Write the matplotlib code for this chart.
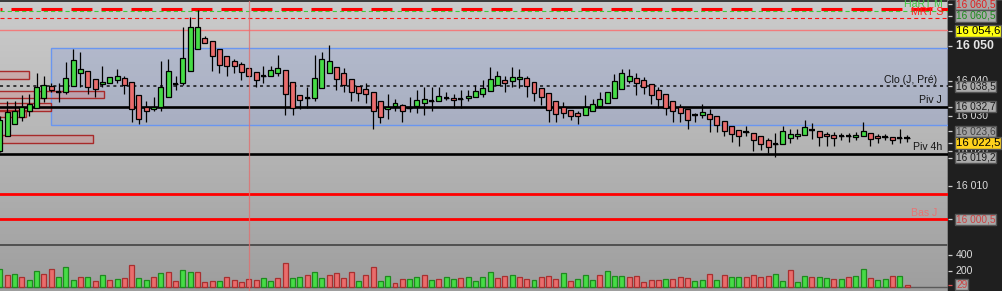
import numpy as np
import matplotlib
matplotlib.use('Agg')
import matplotlib.pyplot as plt
from matplotlib.patches import Rectangle
from matplotlib.colors import LinearSegmentedColormap

plt.rcParams['font.family'] = ['Liberation Sans', 'DejaVu Sans']
plt.rcParams['lines.scale_dashes'] = False

# --- donnees OHLC (bougies) ---
opens = [16020.0, 16024.3, 16027.7, 16029.7, 16031.4, 16032.3, 16035.1, 16038.6, 16036.9, 16036.9,
         16038.6, 16042.3, 16042.9, 16040.6, 16039.1, 16039.4, 16040.3, 16040.9, 16039.7, 16036.0,
         16032.6, 16032.0, 16032.6, 16035.4, 16039.1, 16039.4, 16042.9, 16049.1, 16052.3, 16051.4,
         16049.1, 16047.1, 16045.7, 16044.9, 16043.7, 16042.6, 16041.4, 16041.4, 16042.3, 16043.1,
         16039.7, 16036.0, 16035.1, 16035.1, 16038.0, 16042.3, 16044.0, 16042.3, 16040.6, 16038.6,
         16037.7, 16036.9, 16034.3, 16032.0, 16032.9, 16033.1, 16032.3, 16032.9, 16033.7, 16034.3,
         16034.3, 16035.1, 16035.1, 16034.9, 16035.1, 16035.4, 16036.3, 16037.1, 16038.9, 16040.3,
         16040.0, 16040.6, 16040.9, 16039.7, 16038.0, 16036.6, 16034.3, 16032.6, 16031.7, 16030.9,
         16030.3, 16031.4, 16032.9, 16033.7, 16035.1, 16037.7, 16040.0, 16040.9, 16040.3, 16039.1,
         16037.4, 16036.3, 16034.3, 16032.6, 16032.0, 16030.3, 16030.3, 16030.6, 16030.0, 16028.6,
         16027.1, 16026.0, 16025.4, 16025.1, 16024.3, 16023.1, 16022.0, 16022.0, 16023.7, 16024.3,
         16024.6, 16026.0, 16025.7, 16024.9, 16024.6, 16024.3, 16024.3, 16024.0, 16024.3, 16025.1,
         16024.3, 16024.0, 16024.0, 16023.7, 16023.7]
highs = [16030.0, 16034.3, 16034.3, 16036.0, 16036.3, 16042.3, 16041.4, 16039.4, 16039.4, 16045.4,
         16049.1, 16048.3, 16042.9, 16040.6, 16044.3, 16041.1, 16043.4, 16041.4, 16039.7, 16036.0,
         16034.3, 16035.4, 16045.7, 16046.3, 16041.4, 16055.4, 16058.3, 16060.3, 16052.9, 16051.4,
         16049.1, 16047.1, 16046.3, 16045.4, 16043.7, 16042.6, 16044.3, 16044.3, 16047.4, 16043.1,
         16039.7, 16036.0, 16038.3, 16047.4, 16048.3, 16050.3, 16044.0, 16043.7, 16040.6, 16038.6,
         16039.4, 16036.9, 16034.3, 16036.3, 16034.9, 16033.4, 16035.4, 16037.4, 16038.3, 16038.3,
         16038.3, 16036.9, 16036.3, 16037.4, 16037.4, 16038.9, 16040.3, 16044.0, 16042.9, 16041.4,
         16044.0, 16043.4, 16041.4, 16039.7, 16038.0, 16036.6, 16034.3, 16034.0, 16031.7, 16031.4,
         16036.0, 16034.9, 16036.9, 16036.9, 16042.0, 16043.4, 16043.4, 16042.3, 16041.1, 16039.1,
         16038.3, 16036.3, 16034.3, 16033.4, 16032.0, 16030.9, 16033.4, 16032.0, 16030.0, 16028.6,
         16027.1, 16026.0, 16027.1, 16025.1, 16024.3, 16023.7, 16025.1, 16027.1, 16026.3, 16026.3,
         16028.9, 16028.0, 16025.7, 16025.4, 16025.4, 16025.1, 16025.1, 16025.4, 16028.3, 16025.1,
         16024.9, 16024.9, 16024.0, 16026.3, 16024.6]
lows = [16019.7, 16024.3, 16027.7, 16028.6, 16030.0, 16032.3, 16034.0, 16036.9, 16034.0, 16036.3,
        16038.6, 16038.3, 16036.3, 16035.4, 16038.3, 16039.4, 16039.4, 16036.3, 16028.3, 16027.7,
        16028.3, 16031.4, 16031.4, 16035.4, 16037.4, 16038.9, 16042.9, 16049.1, 16050.9, 16042.9,
        16042.3, 16041.4, 16042.3, 16040.3, 16041.4, 16038.3, 16039.4, 16041.4, 16041.4, 16030.3,
        16030.3, 16032.0, 16032.3, 16034.3, 16038.0, 16042.3, 16037.4, 16036.9, 16034.3, 16034.3,
        16033.7, 16026.3, 16028.0, 16029.1, 16031.4, 16028.3, 16031.1, 16030.9, 16030.3, 16031.4,
        16034.3, 16034.6, 16032.3, 16032.3, 16034.3, 16035.4, 16035.4, 16037.1, 16038.9, 16036.9,
        16038.3, 16038.0, 16035.4, 16034.3, 16033.1, 16028.3, 16028.3, 16029.4, 16028.9, 16027.7,
        16030.3, 16031.4, 16032.3, 16033.7, 16035.1, 16037.7, 16039.4, 16036.0, 16036.3, 16033.4,
        16032.3, 16030.3, 16028.3, 16028.3, 16026.3, 16028.3, 16029.4, 16025.4, 16025.4, 16024.3,
        16022.6, 16021.4, 16024.3, 16020.0, 16020.3, 16019.4, 16018.3, 16022.0, 16022.3, 16023.4,
        16024.6, 16023.4, 16021.4, 16021.4, 16021.4, 16023.1, 16022.6, 16023.1, 16024.3, 16021.4,
        16022.3, 16023.1, 16022.0, 16022.3, 16022.6]
closes = [16028.9, 16031.1, 16031.4, 16032.6, 16033.4, 16038.3, 16038.9, 16037.4, 16036.9, 16040.9,
          16046.0, 16043.4, 16038.3, 16037.7, 16039.7, 16041.1, 16041.4, 16038.9, 16032.0, 16029.1,
          16031.4, 16032.6, 16038.3, 16042.9, 16039.1, 16046.6, 16055.4, 16055.4, 16050.9, 16047.1,
          16044.6, 16044.3, 16044.3, 16042.6, 16041.4, 16040.3, 16041.4, 16043.1, 16043.7, 16036.3,
          16032.3, 16034.6, 16035.1, 16040.9, 16046.3, 16045.7, 16040.6, 16038.9, 16036.9, 16036.6,
          16036.3, 16031.4, 16029.7, 16032.6, 16033.7, 16031.4, 16032.3, 16034.6, 16034.9, 16034.3,
          16035.7, 16035.1, 16034.6, 16034.9, 16035.7, 16037.1, 16038.0, 16040.6, 16041.4, 16039.4,
          16041.1, 16041.1, 16038.6, 16036.6, 16035.4, 16031.7, 16030.6, 16030.9, 16030.0, 16030.0,
          16032.6, 16033.4, 16034.9, 16036.9, 16040.0, 16042.3, 16041.4, 16039.4, 16038.3, 16036.0,
          16034.9, 16032.3, 16031.4, 16030.9, 16028.9, 16030.3, 16031.1, 16029.1, 16027.4, 16025.7,
          16024.9, 16024.3, 16025.4, 16023.1, 16022.0, 16021.1, 16022.0, 16025.7, 16024.9, 16024.9,
          16026.9, 16026.0, 16024.0, 16024.3, 16023.7, 16024.3, 16024.3, 16024.6, 16025.7, 16023.4,
          16023.7, 16024.0, 16023.1, 16023.7, 16023.7]

volumes = [225, 150, 163, 125, 88, 200, 163, 225, 125, 250, 88, 125, 125, 75, 150, 88, 100, 113, 275, 113,
           88, 125, 175, 188, 75, 213, 188, 188, 63, 75, 75, 125, 88, 63, 100, 88, 113, 75, 113, 300,
           113, 125, 150, 188, 113, 150, 175, 113, 188, 75, 150, 250, 75, 138, 50, 100, 100, 125, 150, 88,
           100, 125, 100, 113, 125, 75, 125, 188, 113, 138, 150, 125, 100, 88, 125, 138, 100, 175, 75, 100,
           150, 88, 150, 200, 138, 138, 125, 138, 63, 88, 88, 100, 100, 125, 113, 75, 88, 163, 88, 150,
           125, 125, 125, 150, 125, 138, 163, 75, 213, 63, 138, 125, 125, 113, 100, 100, 125, 138, 225, 113,
           88, 100, 138, 138, 29]
vol_sens = list('grgrggrrgggrgrgrgrrg'
                'grgrrggrrrgrrrrrggrr'
                'ggrggrrrrgrrggrrggrg'
                'rggrggggr'
                'rgrrgrrrgrgggrgggrrr'
                'rrgrrrggrgrggrrrrggr'
                'ggrggrgrggrggrgr')

# niveaux
piv_j = 16032.7
piv_4h = 16019.2
clo_j = 16038.5
bas_j = 16000.5
niveau_rouge = 16007.6
rt_m = 16060.5
rt_s = 16057.9
dernier_haut = 16054.6
zone_haut, zone_bas = 16049.4, 16027.4
zones_rouges = [(16040.6, 16042.9, 3.96), (16035.1, 16037.1, 14.2), (16031.4, 16033.7, 7.0),
                (16029.7, 16031.7, 3.55), (16022.3, 16024.6, 12.7)]
ticks_prix = [16010, 16020, 16030, 16040, 16050]

W, H = 1002, 291
pas = 7.315
vert = '#46dc46'
rouge = '#ea6c6c'

fig = plt.figure(figsize=(W / 100, H / 100), dpi=100)

# fond degrade
bg = fig.add_axes([0, 0, 1, 1], zorder=-10)
grad = np.linspace(0, 1, 256).reshape(-1, 1)
cm = LinearSegmentedColormap.from_list('fond', ['#cccccc', '#9e9e9e'])
bg.imshow(grad, aspect='auto', cmap=cm, extent=[0, 1, 0, 1], origin='upper')
bg.set_xlim(0, 1)
bg.set_ylim(0, 1)
bg.axis('off')

ax = fig.add_axes([0, 46 / H, 948 / W, 244 / H])
ax.set_facecolor('none')
ax.set_xlim(0, 948 / pas)
ax.set_ylim(15993.14, 16062.86)
ax.axis('off')

x = np.arange(len(opens))
o = np.array(opens)
c = np.array(closes)

# zone bleue
ax.add_patch(Rectangle((6.97, zone_bas), 200, zone_haut - zone_bas, facecolor='#6b8be8',
                       alpha=0.2, edgecolor='none', zorder=1))
ax.add_patch(Rectangle((6.97, zone_bas), 200, zone_haut - zone_bas, facecolor='none',
                       edgecolor='#6a96f0', lw=1.0, zorder=2))

# zones rouges a gauche
for bas, haut, larg in zones_rouges:
    ax.add_patch(Rectangle((-1, bas), larg + 1, haut - bas, facecolor='#e07a7a', alpha=0.3,
                           edgecolor='none', zorder=1))
    ax.add_patch(Rectangle((-1, bas), larg + 1, haut - bas, facecolor='none',
                           edgecolor='#a82a2a', lw=1.0, zorder=2))

# lignes horizontales
ax.axhline(rt_m, color='#ff0000', lw=2.2, linestyle=(13.7, (15.1, 6.5)), zorder=3)
ax.axhline(rt_m - 0.45, color='#3ccc3c', lw=0.8, linestyle=(0, (3, 2.2)), zorder=3)
ax.axhline(rt_s, color='#ff1010', lw=0.8, linestyle=(0, (2.9, 2.2)), zorder=3)
ax.axhline(dernier_haut, color='#f07c7c', lw=1.0, zorder=3)
ax.axhline(clo_j, color='#101010', lw=1.1, linestyle=(0, (2.2, 2.6)), zorder=3)
ax.axhline(piv_j, color='black', lw=1.9, zorder=3)
ax.axhline(piv_4h, color='black', lw=1.9, zorder=3)
ax.axhline(niveau_rouge, color='#ff0000', lw=2.0, zorder=3)
ax.axhline(bas_j, color='#ff0000', lw=2.0, zorder=3)

# bougies
ax.vlines(x, lows, highs, color='black', lw=0.9, zorder=4)
couleurs = np.where(c > o, vert, np.where(c < o, rouge, 'black'))
ax.bar(x, np.abs(c - o), 0.68, bottom=np.minimum(o, c), color=couleurs,
       edgecolor='black', lw=0.9, zorder=5)
doji = c == o
ax.hlines(o[doji], x[doji] - 0.36, x[doji] + 0.36, color='black', lw=1.6, zorder=5)

ax.axvline(34.04, color='#e07070', lw=0.9, alpha=0.8, zorder=6)

# textes des niveaux
tr = ax.get_yaxis_transform()
ax.text(937 / 948, 16040.3, 'Clo (J, Pré)', transform=tr, ha='right', va='center',
        fontsize=7.6, color='#151515')
ax.text(942 / 948, 16034.6, 'Piv J', transform=tr, ha='right', va='center',
        fontsize=7.6, color='#151515')
ax.text(942 / 948, 16021.1, 'Piv 4h', transform=tr, ha='right', va='center',
        fontsize=7.6, color='#151515')
ax.text(937 / 948, 16002.3, 'Bas J', transform=tr, ha='right', va='center',
        fontsize=7.6, color='#e87474')
ax.text(943 / 948, 16062.1, 'HaRT M', transform=tr, ha='right', va='center',
        fontsize=7.6, color='#40c840')
ax.text(943 / 948, 16059.6, 'MRT S', transform=tr, ha='right', va='center',
        fontsize=7.6, color='#ff2020')

# volumes
vax = fig.add_axes([0, 0, 948 / W, 46 / H])
vax.set_facecolor('none')
vax.set_xlim(0, 948 / pas)
vax.set_ylim(-50, 525)
vax.axis('off')
fc = [vert if s == 'g' else rouge for s in vol_sens]
ec = ['#1f8a1f' if s == 'g' else '#a83030' for s in vol_sens]
vax.bar(x, volumes, 0.68, color=fc, edgecolor=ec, lw=0.9, zorder=3)
vax.axhline(0, color='#5a5a5a', lw=1.0, zorder=2)
vax.axvline(34.04, color='#e07070', lw=0.9, alpha=0.8, zorder=6)

# axe de droite
rax = fig.add_axes([948 / W, 46 / H, 54 / W, 244 / H])
rax.set_facecolor('#1f1f1f')
rax.set_xlim(0, 54)
rax.set_ylim(15993.14, 16062.86)
rax.set_xticks([])
rax.set_yticks([])
for s in rax.spines.values():
    s.set_visible(False)
for t in ticks_prix:
    rax.hlines(t, 0, 4, color='#cfcfcf', lw=0.9)
    if t == 16050:
        rax.text(8, t, '16 050', fontsize=8.8, fontweight='bold', color='#e4e4e4', va='center')
    else:
        rax.text(8, t, '{:,}'.format(t).replace(',', ' '), fontsize=7.6, color='#dcdcdc', va='center')

etiquettes = [('16 060,5', 16062.0, '#a9a9a9', '#e02020', 7.3),
              ('16 060,5', 16058.6, '#a9a9a9', '#1a8a1a', 7.3),
              ('16 054,6', 16054.3, '#ffff10', '#000000', 8.2),
              ('16 038,5', clo_j, '#ababab', '#1a1a1a', 7.3),
              ('16 032,7', piv_j, '#ababab', '#1a1a1a', 7.3),
              ('16 023,6', 16025.6, '#a0a0a0', '#404040', 7.3),
              ('16 022,5', 16022.3, '#ffd21c', '#000000', 8.2),
              ('16 019,2', 16018.1, '#ababab', '#1a1a1a', 7.3),
              ('16 000,5', bas_j, '#a9a9a9', '#cc4444', 7.3)]
for txt, y, face, col, fs in etiquettes:
    rax.hlines(y, 0, 4, color='#cfcfcf', lw=0.9)
    rax.text(8, y, txt, fontsize=fs, color=col, va='center', ha='left',
             bbox=dict(boxstyle='square,pad=0.06', fc=face, ec='#555555', lw=1.0))

rvax = fig.add_axes([948 / W, 0, 54 / W, 46 / H])
rvax.set_facecolor('#1f1f1f')
rvax.set_xlim(0, 54)
rvax.set_ylim(-50, 525)
rvax.set_xticks([])
rvax.set_yticks([])
for s in rvax.spines.values():
    s.set_visible(False)
for t in [400, 200]:
    rvax.hlines(t, 0, 4, color='#cfcfcf', lw=0.9)
    rvax.text(8, t, str(t), fontsize=7.6, color='#dcdcdc', va='center')
rvax.hlines(volumes[-1], 0, 4, color='#e05050', lw=0.9)
rvax.text(8, volumes[-1], str(volumes[-1]), fontsize=7.3, color='#cc4444', va='center',
          bbox=dict(boxstyle='square,pad=0.06', fc='#a9a9a9', ec='#555555', lw=1.0))

# traits du cadre
bg.axhline(1 - 0.6 / H, color='#3a3a3a', lw=1.4)
bg.axhline(46 / H, color='#505050', lw=1.4)
bg.axvline(948 / W, color='#7a7a7a', lw=1.2)

fig.savefig('out.png', dpi=100)
